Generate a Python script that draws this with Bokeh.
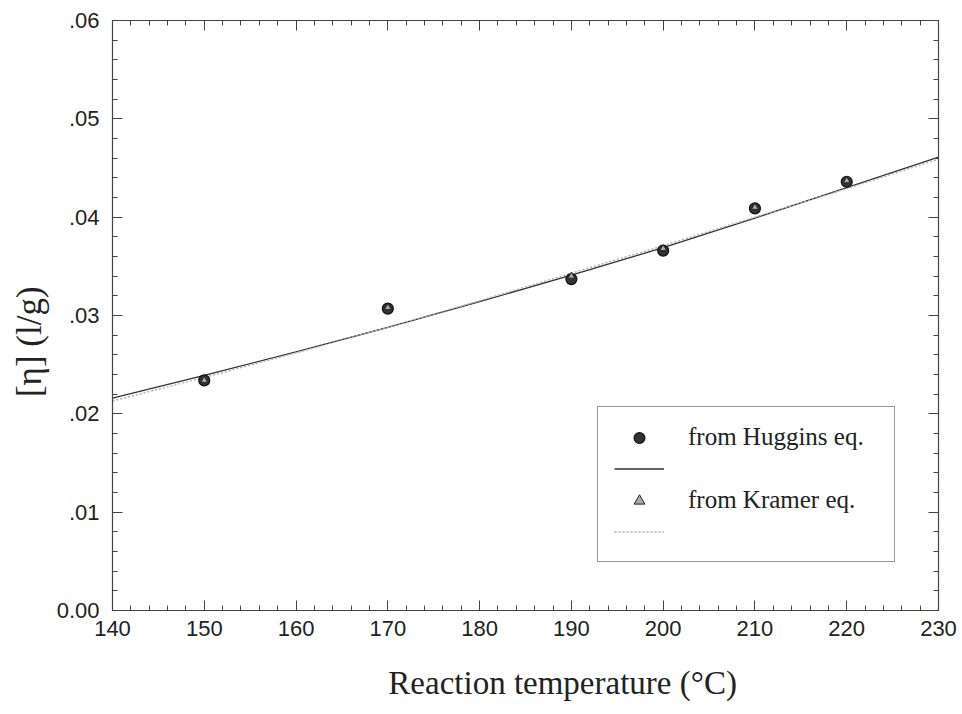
from bokeh.plotting import figure
from bokeh.models import (Legend, LegendItem, LinearAxis, FixedTicker, Range1d)
from bokeh.embed import file_html
from bokeh.resources import INLINE

# data
temps = [150, 170, 190, 200, 210, 220]
huggins = [0.0234, 0.0307, 0.0337, 0.0366, 0.0409, 0.0436]
kramer = [0.0234, 0.0308, 0.0340, 0.0368, 0.0410, 0.0437]

fit_x = [140, 150, 160, 170, 180, 190, 200, 210, 220, 230]
fit_huggins = [0.0216, 0.0239, 0.0263, 0.0288, 0.0314, 0.0341, 0.0369, 0.0399, 0.0430, 0.0461]
fit_kramer = [0.0213, 0.0237, 0.0262, 0.0288, 0.0315, 0.0343, 0.0371, 0.0400, 0.0429, 0.0459]

x_ticks = [140, 150, 160, 170, 180, 190, 200, 210, 220, 230]
x_labels = ["140", "150", "160", "170", "180", "190", "200", "210", "220", "230"]
y_ticks = [0.0, 0.01, 0.02, 0.03, 0.04, 0.05, 0.06]
y_labels = ["0.00", ".01", ".02", ".03", ".04", ".05", ".06"]
x_minor = [v for v in range(140, 231, 2) if v % 10 != 0]
y_minor = [round(i * 0.002, 4) for i in range(0, 31) if i % 5 != 0]

x_title = "Reaction temperature (°C)"
y_title = "[η] (l/g)"

NBSP = "\u00a0"
AX = "#444444"
TXT = "#222222"

p = figure(width=962, height=714, output_backend="svg", toolbar_location=None,
           x_range=Range1d(140, 230), y_range=Range1d(0, 0.06),
           min_border_left=112, min_border_right=24, min_border_top=20,
           min_border_bottom=104, x_axis_location=None, y_axis_location=None)
p.xgrid.visible = False
p.ygrid.visible = False
p.outline_line_color = AX
p.outline_line_width = 1.2
p.background_fill_color = "white"
p.border_fill_color = "white"

def style(ax, labels=True):
    ax.axis_line_color = AX
    ax.major_tick_line_color = AX
    ax.minor_tick_line_color = AX
    ax.major_tick_in = 10
    ax.major_tick_out = 0
    ax.minor_tick_in = 5
    ax.minor_tick_out = 0
    if labels:
        ax.major_label_text_font = "Liberation Sans"
        ax.major_label_text_font_size = "22px"
        ax.major_label_text_color = TXT
    else:
        ax.major_label_text_font_size = "0px"
        ax.major_label_text_color = None

def title_axis(label, size, standoff):
    ax = LinearAxis(ticker=FixedTicker(ticks=[]), axis_label=label)
    ax.axis_line_color = None
    ax.major_tick_line_color = None
    ax.minor_tick_line_color = None
    ax.major_tick_in = 0
    ax.major_tick_out = 0
    ax.minor_tick_in = 0
    ax.minor_tick_out = 0
    ax.major_label_text_font_size = "0px"
    ax.axis_label_text_font = "Liberation Serif"
    ax.axis_label_text_font_size = size
    ax.axis_label_text_font_style = "normal"
    ax.axis_label_text_color = TXT
    ax.axis_label_standoff = standoff
    return ax

xt = FixedTicker(ticks=x_ticks, minor_ticks=x_minor)
yt = FixedTicker(ticks=y_ticks, minor_ticks=y_minor)

xb = LinearAxis(ticker=xt)
style(xb)
xb.major_label_overrides = {t: l for t, l in zip(x_ticks, x_labels)}
xb.major_label_standoff = 10
p.add_layout(xb, "below")
# non-breaking spaces nudge the centred title slightly right, as in the original
p.add_layout(title_axis(NBSP * 9 + x_title, "33px", 26), "below")

yl = LinearAxis(ticker=yt)
style(yl)
yl.major_label_overrides = {t: l for t, l in zip(y_ticks, y_labels)}
yl.major_label_standoff = 13
p.add_layout(yl, "left")
p.add_layout(title_axis(y_title + NBSP * 6, "35px", 5), "left")

xa = LinearAxis(ticker=xt)
style(xa, labels=False)
p.add_layout(xa, "above")
yr = LinearAxis(ticker=yt)
style(yr, labels=False)
p.add_layout(yr, "right")

r_fit_h = p.line(fit_x, fit_huggins, line_color="#333333", line_width=1.3)
r_fit_k = p.line(fit_x, fit_kramer, line_color="#b0b0b0", line_width=1.5, line_dash="2 2")
r_h = p.scatter(temps, huggins, marker="circle", size=11, fill_color="#333333",
                line_color="#111111", line_width=1.2)
r_k = p.scatter(temps, kramer, marker="triangle", size=7, fill_color="#aaaaaa",
                line_color="#222222", line_width=1.0)

legend = Legend(items=[
    LegendItem(label="from Huggins eq.", renderers=[r_h]),
    LegendItem(label=" ", renderers=[r_fit_h]),
    LegendItem(label="from Kramer eq.", renderers=[r_k]),
    LegendItem(label=" ", renderers=[r_fit_k]),
], location=(485, 48))
legend.border_line_color = "#333333"
legend.border_line_width = 1.2
legend.background_fill_color = "white"
legend.background_fill_alpha = 1
legend.label_text_font = "Liberation Serif"
legend.label_text_font_size = "25px"
legend.label_text_color = TXT
legend.glyph_width = 50
legend.glyph_height = 27
legend.label_height = 27
legend.label_width = 190
legend.label_standoff = 24
legend.spacing = 4
legend.padding = 16
legend.margin = 0
p.add_layout(legend, "center")

open("out.html", "w").write(file_html(p, INLINE))
